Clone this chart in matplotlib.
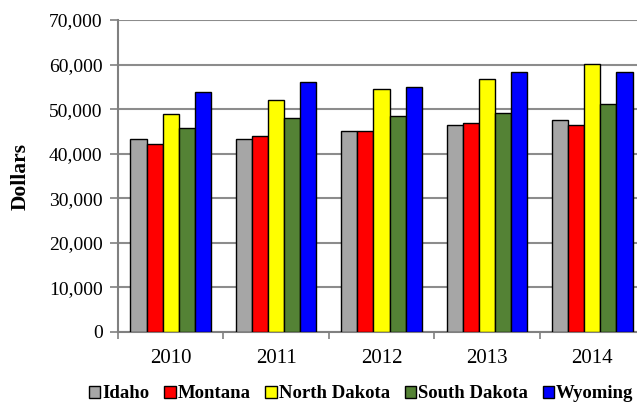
import numpy as np
import matplotlib.pyplot as plt
from matplotlib.ticker import FuncFormatter

years = ['2010', '2011', '2012', '2013', '2014']
states = ['Idaho', 'Montana', 'North Dakota', 'South Dakota', 'Wyoming']
idaho = [43200, 43200, 45200, 46550, 47500]
montana = [42250, 43900, 45000, 46850, 46550]
north_dakota = [48800, 52100, 54500, 56750, 60200]
south_dakota = [45700, 48100, 48350, 49100, 51050]
wyoming = [53750, 56000, 55000, 58400, 58250]
colors = ['#A6A6A6', '#FF0000', '#FFFF00', '#548235', '#0000FF']

plt.rcParams['font.family'] = ['Liberation Serif', 'DejaVu Serif']

fig = plt.figure(figsize=(6.37, 4.09), dpi=100)
ax = fig.add_axes([118/637, 1 - 332/409, 527/637, 312/409])

x = np.arange(len(years))
w = 0.153
series = [idaho, montana, north_dakota, south_dakota, wyoming]
for i, (name, vals) in enumerate(zip(states, series)):
    ax.bar(x + (i - 2) * w, vals, w, color=colors[i], edgecolor='black',
           linewidth=1.0, label=name, zorder=3)

ax.set_xlim(-0.5, 4.5)
ax.set_ylim(0, 70000)
ax.set_yticks(range(0, 70001, 10000))
ax.yaxis.set_major_formatter(FuncFormatter(lambda v, p: f'{int(v):,}'))
ax.set_xticks(x)
ax.set_xticklabels(years)
ax.set_xticks(np.arange(-0.5, 4.6, 1), minor=True)
ax.tick_params(axis='x', which='major', length=0, labelsize=15, pad=12)
ax.tick_params(axis='x', which='minor', length=5, color='#808080', width=1.2)
ax.tick_params(axis='y', length=6, color='#808080', width=1.2, labelsize=14, pad=5)
ax.grid(axis='y', color='#8C8C8C', linewidth=1.5, zorder=0)
for s in ['top', 'right']:
    ax.spines[s].set_visible(False)
for s in ['left', 'bottom']:
    ax.spines[s].set_color('#808080')
    ax.spines[s].set_linewidth(1.5)

ax.set_ylabel('Dollars', fontsize=15.5, fontweight='bold', labelpad=13)

fig.legend(loc='lower center', bbox_to_anchor=(0.567, -0.025), ncol=5,
           frameon=False, prop={'weight': 'bold', 'size': 13.5},
           handlelength=0.6, handleheight=0.6, handletextpad=0.1,
           columnspacing=0.8)

fig.savefig('out.png', dpi=100)
